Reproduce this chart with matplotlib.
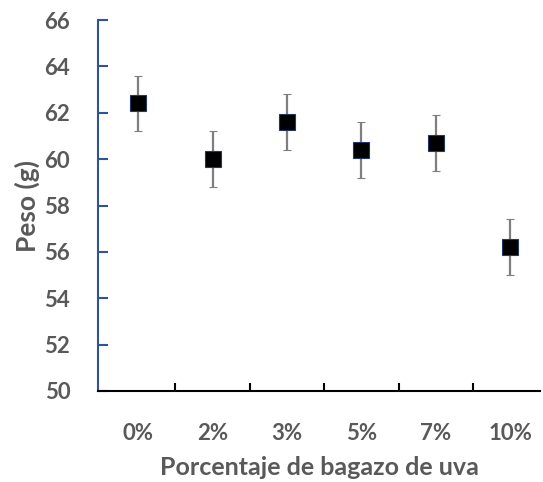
import matplotlib.pyplot as plt
import numpy as np

categorias = ['0%', '2%', '3%', '5%', '7%', '10%']
peso = [62.4, 60.0, 61.6, 60.4, 60.7, 56.2]
error = [1.2, 1.2, 1.2, 1.2, 1.2, 1.2]

gris = '#595959'
azul = '#2F5597'
plt.rcParams['font.family'] = ['Lato', 'DejaVu Sans']

fig = plt.figure(figsize=(5.43, 4.82), dpi=100)
ax = fig.add_axes([0.1805, 0.1888, 0.8140, 0.7697])

x = np.arange(len(categorias))
ax.errorbar(x, peso, yerr=error, fmt='s', color='black', markersize=11,
            markeredgecolor='#1F3864', markeredgewidth=0.8,
            ecolor='#7F7F7F', elinewidth=1.6, capsize=3, capthick=1.6)

ax.set_xlim(-0.54, 5.4)
ax.set_ylim(50, 66)
ax.set_yticks(np.arange(50, 67, 2))
ax.set_xticks(x)
ax.set_xticklabels(categorias)
ax.set_xticks(x[:-1] + 0.5, minor=True)

ax.spines['top'].set_visible(False)
ax.spines['right'].set_visible(False)
ax.spines['left'].set_color(azul)
ax.spines['left'].set_linewidth(1.5)
ax.spines['bottom'].set_color('black')
ax.spines['bottom'].set_linewidth(1.5)

ax.tick_params(axis='y', direction='in', length=7, width=1.5, color=azul,
               labelsize=16, labelcolor=gris, pad=20)
ax.tick_params(axis='x', which='major', length=0, labelsize=16, labelcolor=gris, pad=23)
ax.tick_params(axis='x', which='minor', direction='in', length=6, width=1.5, color='black')
for lab in ax.get_xticklabels() + ax.get_yticklabels():
    lab.set_fontweight('bold')

ax.set_xlabel('Porcentaje de bagazo de uva', fontsize=18, fontweight='bold', color=gris, labelpad=9)
ax.set_ylabel('Peso (g)', fontsize=19, fontweight='bold', color=gris, labelpad=3)

fig.savefig('out.png', dpi=100)
